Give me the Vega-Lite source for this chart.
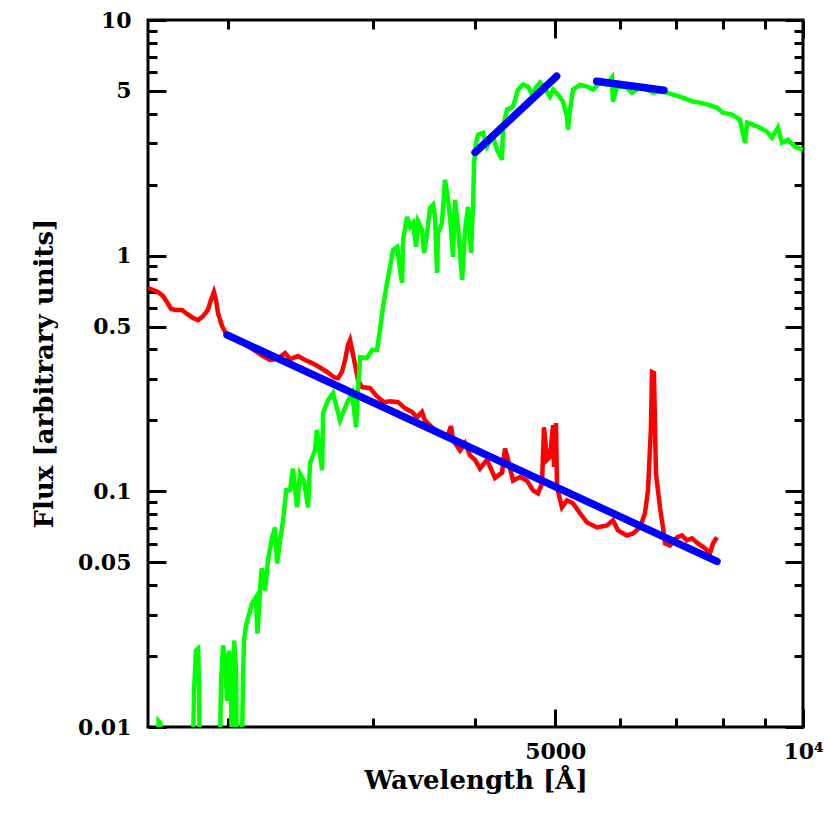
{
  "$schema": "https://vega.github.io/schema/vega-lite/v6.json",
  "autosize": "none",
  "width": 655,
  "height": 707,
  "padding": {"left": 148, "top": 20, "right": 27, "bottom": 95},
  "background": "white",
  "datasets": {
    "red": [
      {"lam": 1600, "flux": 0.730}, {"lam": 1623, "flux": 0.715}, {"lam": 1645, "flux": 0.701}, {"lam": 1668, "flux": 0.675},
      {"lam": 1687, "flux": 0.636}, {"lam": 1707, "flux": 0.594}, {"lam": 1731, "flux": 0.588}, {"lam": 1760, "flux": 0.588},
      {"lam": 1785, "flux": 0.566}, {"lam": 1815, "flux": 0.544}, {"lam": 1841, "flux": 0.533}, {"lam": 1867, "flux": 0.555},
      {"lam": 1892, "flux": 0.588}, {"lam": 1908, "flux": 0.649}, {"lam": 1924, "flux": 0.701}, {"lam": 1935, "flux": 0.649},
      {"lam": 1946, "flux": 0.571}, {"lam": 1968, "flux": 0.503}, {"lam": 1991, "flux": 0.465}, {"lam": 2024, "flux": 0.452},
      {"lam": 2070, "flux": 0.434}, {"lam": 2116, "flux": 0.413}, {"lam": 2171, "flux": 0.390}, {"lam": 2207, "flux": 0.375},
      {"lam": 2251, "flux": 0.361}, {"lam": 2296, "flux": 0.364}, {"lam": 2348, "flux": 0.386}, {"lam": 2381, "flux": 0.364},
      {"lam": 2434, "flux": 0.375}, {"lam": 2483, "flux": 0.361}, {"lam": 2532, "flux": 0.350}, {"lam": 2582, "flux": 0.337},
      {"lam": 2641, "flux": 0.321}, {"lam": 2692, "flux": 0.305}, {"lam": 2723, "flux": 0.302}, {"lam": 2753, "flux": 0.321},
      {"lam": 2777, "flux": 0.361}, {"lam": 2800, "flux": 0.418}, {"lam": 2816, "flux": 0.439}, {"lam": 2832, "flux": 0.398},
      {"lam": 2856, "flux": 0.343}, {"lam": 2880, "flux": 0.296}, {"lam": 2912, "flux": 0.277}, {"lam": 2978, "flux": 0.274},
      {"lam": 3036, "flux": 0.253}, {"lam": 3096, "flux": 0.239}, {"lam": 3149, "flux": 0.241}, {"lam": 3221, "flux": 0.239},
      {"lam": 3285, "flux": 0.225}, {"lam": 3350, "flux": 0.217}, {"lam": 3396, "flux": 0.206}, {"lam": 3444, "flux": 0.217},
      {"lam": 3473, "flux": 0.200}, {"lam": 3542, "flux": 0.187}, {"lam": 3602, "flux": 0.178}, {"lam": 3694, "flux": 0.170},
      {"lam": 3735, "flux": 0.189}, {"lam": 3756, "flux": 0.165}, {"lam": 3831, "flux": 0.149}, {"lam": 3885, "flux": 0.160},
      {"lam": 3939, "flux": 0.142}, {"lam": 3995, "flux": 0.136}, {"lam": 4051, "flux": 0.125}, {"lam": 4131, "flux": 0.136},
      {"lam": 4224, "flux": 0.114}, {"lam": 4308, "flux": 0.120}, {"lam": 4344, "flux": 0.152}, {"lam": 4381, "flux": 0.136},
      {"lam": 4443, "flux": 0.111}, {"lam": 4530, "flux": 0.115}, {"lam": 4620, "flux": 0.111}, {"lam": 4698, "flux": 0.101},
      {"lam": 4764, "flux": 0.098}, {"lam": 4818, "flux": 0.108}, {"lam": 4845, "flux": 0.187}, {"lam": 4886, "flux": 0.136},
      {"lam": 4927, "flux": 0.140}, {"lam": 4969, "flux": 0.191}, {"lam": 4983, "flux": 0.127}, {"lam": 5010, "flux": 0.195},
      {"lam": 5025, "flux": 0.104}, {"lam": 5095, "flux": 0.0855}, {"lam": 5166, "flux": 0.0916}, {"lam": 5254, "flux": 0.0890},
      {"lam": 5358, "flux": 0.0807}, {"lam": 5464, "flux": 0.0738}, {"lam": 5619, "flux": 0.0703}, {"lam": 5778, "flux": 0.0717},
      {"lam": 5876, "flux": 0.0753}, {"lam": 5959, "flux": 0.0683}, {"lam": 6110, "flux": 0.0650}, {"lam": 6214, "flux": 0.0663},
      {"lam": 6337, "flux": 0.0703}, {"lam": 6426, "flux": 0.0807}, {"lam": 6481, "flux": 0.101}, {"lam": 6535, "flux": 0.187},
      {"lam": 6554, "flux": 0.321}, {"lam": 6590, "flux": 0.318}, {"lam": 6627, "flux": 0.119}, {"lam": 6702, "flux": 0.0855},
      {"lam": 6759, "flux": 0.0703}, {"lam": 6797, "flux": 0.0601}, {"lam": 6892, "flux": 0.0589}, {"lam": 7028, "flux": 0.0638},
      {"lam": 7127, "flux": 0.0650}, {"lam": 7227, "flux": 0.0619}, {"lam": 7329, "flux": 0.0632}, {"lam": 7453, "flux": 0.0601},
      {"lam": 7601, "flux": 0.0573}, {"lam": 7708, "flux": 0.0545}, {"lam": 7773, "flux": 0.0601}, {"lam": 7861, "flux": 0.0638}
    ],
    "green": [
      {"lam": 1640, "flux": 0.005}, {"lam": 1648, "flux": 0.0106}, {"lam": 1656, "flux": 0.0104}, {"lam": 1660, "flux": 0.005},
      {"lam": 1810, "flux": 0.005}, {"lam": 1820, "flux": 0.0143}, {"lam": 1830, "flux": 0.0211}, {"lam": 1841, "flux": 0.0215},
      {"lam": 1846, "flux": 0.0143}, {"lam": 1851, "flux": 0.005}, {"lam": 1952, "flux": 0.005}, {"lam": 1963, "flux": 0.0157},
      {"lam": 1974, "flux": 0.0222}, {"lam": 1985, "flux": 0.0191}, {"lam": 1996, "flux": 0.0129}, {"lam": 2007, "flux": 0.0211},
      {"lam": 2019, "flux": 0.0157}, {"lam": 2024, "flux": 0.005}, {"lam": 2036, "flux": 0.0233}, {"lam": 2047, "flux": 0.0174},
      {"lam": 2053, "flux": 0.005}, {"lam": 2076, "flux": 0.005}, {"lam": 2087, "flux": 0.0157}, {"lam": 2093, "flux": 0.0233},
      {"lam": 2105, "flux": 0.0269}, {"lam": 2116, "flux": 0.0289}, {"lam": 2140, "flux": 0.0334}, {"lam": 2164, "flux": 0.0355},
      {"lam": 2173, "flux": 0.0249}, {"lam": 2195, "flux": 0.0440}, {"lam": 2201, "flux": 0.0471}, {"lam": 2220, "flux": 0.0380},
      {"lam": 2238, "flux": 0.0509}, {"lam": 2264, "flux": 0.0638}, {"lam": 2283, "flux": 0.0703}, {"lam": 2296, "flux": 0.0494},
      {"lam": 2315, "flux": 0.0619}, {"lam": 2335, "flux": 0.0753}, {"lam": 2355, "flux": 0.101}, {"lam": 2381, "flux": 0.101},
      {"lam": 2400, "flux": 0.125}, {"lam": 2428, "flux": 0.0855}, {"lam": 2448, "flux": 0.119}, {"lam": 2475, "flux": 0.111},
      {"lam": 2504, "flux": 0.0855}, {"lam": 2518, "flux": 0.132}, {"lam": 2553, "flux": 0.149}, {"lam": 2567, "flux": 0.182},
      {"lam": 2604, "flux": 0.123}, {"lam": 2611, "flux": 0.215}, {"lam": 2648, "flux": 0.244}, {"lam": 2685, "flux": 0.261},
      {"lam": 2738, "flux": 0.200}, {"lam": 2792, "flux": 0.237}, {"lam": 2832, "flux": 0.261}, {"lam": 2864, "flux": 0.187},
      {"lam": 2880, "flux": 0.277}, {"lam": 2896, "flux": 0.371}, {"lam": 2953, "flux": 0.368}, {"lam": 2995, "flux": 0.398},
      {"lam": 3036, "flux": 0.398}, {"lam": 3062, "flux": 0.484}, {"lam": 3088, "flux": 0.606}, {"lam": 3123, "flux": 0.766},
      {"lam": 3149, "flux": 0.896}, {"lam": 3176, "flux": 1.058}, {"lam": 3212, "flux": 1.090}, {"lam": 3239, "flux": 0.870},
      {"lam": 3257, "flux": 0.766}, {"lam": 3266, "flux": 1.167}, {"lam": 3303, "flux": 1.461}, {"lam": 3331, "flux": 1.325},
      {"lam": 3359, "flux": 1.376}, {"lam": 3387, "flux": 1.090}, {"lam": 3406, "flux": 1.398}, {"lam": 3444, "flux": 1.287},
      {"lam": 3463, "flux": 1.027}, {"lam": 3493, "flux": 1.250}, {"lam": 3522, "flux": 1.596}, {"lam": 3552, "flux": 1.644},
      {"lam": 3572, "flux": 1.461}, {"lam": 3592, "flux": 0.845}, {"lam": 3602, "flux": 1.250}, {"lam": 3642, "flux": 1.376},
      {"lam": 3673, "flux": 2.099}, {"lam": 3694, "flux": 1.849}, {"lam": 3725, "flux": 1.461}, {"lam": 3756, "flux": 0.988},
      {"lam": 3777, "flux": 1.726}, {"lam": 3809, "flux": 1.325}, {"lam": 3853, "flux": 0.789}, {"lam": 3885, "flux": 1.287},
      {"lam": 3917, "flux": 1.612}, {"lam": 3950, "flux": 1.027}, {"lam": 3973, "flux": 1.644}, {"lam": 3984, "flux": 2.479},
      {"lam": 4006, "flux": 3.015}, {"lam": 4029, "flux": 3.262}, {"lam": 4085, "flux": 3.326}, {"lam": 4131, "flux": 2.900},
      {"lam": 4201, "flux": 3.198}, {"lam": 4248, "flux": 2.816}, {"lam": 4308, "flux": 2.553}, {"lam": 4320, "flux": 3.527},
      {"lam": 4369, "flux": 4.165}, {"lam": 4443, "flux": 4.289}, {"lam": 4505, "flux": 5.066}, {"lam": 4568, "flux": 5.320},
      {"lam": 4633, "flux": 5.219}, {"lam": 4685, "flux": 4.824}, {"lam": 4738, "flux": 5.166}, {"lam": 4791, "flux": 5.425},
      {"lam": 4886, "flux": 4.968}, {"lam": 4927, "flux": 4.731}, {"lam": 4969, "flux": 5.066}, {"lam": 5039, "flux": 4.824},
      {"lam": 5110, "flux": 4.505}, {"lam": 5166, "flux": 3.890}, {"lam": 5181, "flux": 3.425}, {"lam": 5210, "flux": 4.165},
      {"lam": 5254, "flux": 5.066}, {"lam": 5358, "flux": 5.320}, {"lam": 5464, "flux": 5.219}, {"lam": 5557, "flux": 5.066},
      {"lam": 5666, "flux": 5.425}, {"lam": 5778, "flux": 5.320}, {"lam": 5860, "flux": 5.698}, {"lam": 5876, "flux": 4.505},
      {"lam": 5942, "flux": 5.219}, {"lam": 6110, "flux": 5.166}, {"lam": 6197, "flux": 4.919}, {"lam": 6337, "flux": 5.166},
      {"lam": 6463, "flux": 5.066}, {"lam": 6572, "flux": 4.919}, {"lam": 6702, "flux": 4.968}, {"lam": 6835, "flux": 4.919},
      {"lam": 6950, "flux": 4.824}, {"lam": 7147, "flux": 4.685}, {"lam": 7349, "flux": 4.505}, {"lam": 7495, "flux": 4.461},
      {"lam": 7665, "flux": 4.375}, {"lam": 7861, "flux": 4.247}, {"lam": 7993, "flux": 4.044}, {"lam": 8197, "flux": 3.966},
      {"lam": 8382, "flux": 3.777}, {"lam": 8500, "flux": 3.015}, {"lam": 8552, "flux": 3.668}, {"lam": 8693, "flux": 3.598},
      {"lam": 8865, "flux": 3.492}, {"lam": 9040, "flux": 3.359}, {"lam": 9167, "flux": 3.166}, {"lam": 9323, "flux": 3.492},
      {"lam": 9428, "flux": 3.015}, {"lam": 9586, "flux": 3.105}, {"lam": 9776, "flux": 2.900}, {"lam": 10000, "flux": 2.816}
    ],
    "blue": [
      {"seg": "a", "lam": 1996, "flux": 0.461}, {"seg": "a", "lam": 7861, "flux": 0.0504},
      {"seg": "b", "lam": 3995, "flux": 2.743}, {"seg": "b", "lam": 5020, "flux": 5.77},
      {"seg": "c", "lam": 5614, "flux": 5.495}, {"seg": "c", "lam": 6777, "flux": 5.03}
    ]
  },
  "layer": [
    {
      "data": {"name": "red"},
      "mark": {"type": "line", "color": "#ff0000", "strokeWidth": 4.5, "clip": true},
      "encoding": {
        "x": {
          "field": "lam", "type": "quantitative",
          "scale": {"type": "log", "domain": [1600, 10000], "nice": false},
          "axis": {
            "orient": "bottom",
            "values": [2000, 3000, 4000, 5000, 6000, 7000, 8000, 9000, 10000],
            "labelExpr": "datum.value == 5000 ? '5000' : datum.value == 10000 ? '10⁴' : ''",
            "tickSize": {"condition": {"test": "datum.value == 5000 || datum.value == 10000", "value": -18}, "value": -9},
            "labelBaseline": "alphabetic",
            "labelPadding": 49,
            "title": "Wavelength [Å]",
            "titleY": 61,
            "titleBaseline": "alphabetic"
          }
        },
        "y": {
          "field": "flux", "type": "quantitative",
          "scale": {"type": "log", "domain": [0.01, 10], "nice": false},
          "axis": {
            "orient": "left",
            "values": [0.01, 0.02, 0.03, 0.04, 0.05, 0.06, 0.07, 0.08, 0.09, 0.1, 0.2, 0.3, 0.4, 0.5, 0.6, 0.7, 0.8, 0.9, 1, 2, 3, 4, 5, 6, 7, 8, 9, 10],
            "labelExpr": "indexof([0.01, 0.05, 0.1, 0.5, 1, 5, 10], datum.value) >= 0 ? '' + datum.value : ''",
            "tickSize": {"condition": {"test": "indexof([0.01, 0.05, 0.1, 0.5, 1, 5, 10], datum.value) >= 0", "value": -18}, "value": -9},
            "labelPadding": 35,
            "title": "Flux [arbitrary units]",
            "titleX": -96,
            "titleY": 353,
            "titleBaseline": "alphabetic"
          }
        }
      }
    },
    {
      "data": {"name": "green"},
      "mark": {"type": "line", "color": "#00ff00", "strokeWidth": 4.5, "clip": true},
      "encoding": {
        "x": {
          "field": "lam", "type": "quantitative",
          "scale": {"type": "log", "domain": [1600, 10000], "nice": false},
          "axis": {
            "orient": "top",
            "values": [2000, 3000, 4000, 5000, 6000, 7000, 8000, 9000, 10000],
            "labels": false,
            "tickSize": {"condition": {"test": "datum.value == 5000 || datum.value == 10000", "value": -18}, "value": -9},
            "title": null
          }
        },
        "y": {
          "field": "flux", "type": "quantitative",
          "scale": {"type": "log", "domain": [0.01, 10], "nice": false},
          "axis": {
            "orient": "right",
            "values": [0.01, 0.02, 0.03, 0.04, 0.05, 0.06, 0.07, 0.08, 0.09, 0.1, 0.2, 0.3, 0.4, 0.5, 0.6, 0.7, 0.8, 0.9, 1, 2, 3, 4, 5, 6, 7, 8, 9, 10],
            "labels": false,
            "tickSize": {"condition": {"test": "indexof([0.01, 0.05, 0.1, 0.5, 1, 5, 10], datum.value) >= 0", "value": -18}, "value": -9},
            "title": null
          }
        }
      }
    },
    {
      "data": {"name": "blue"},
      "mark": {"type": "line", "color": "#0000ff", "strokeWidth": 7.5, "strokeCap": "round", "clip": true},
      "encoding": {
        "x": {"field": "lam", "type": "quantitative", "scale": {"type": "log", "domain": [1600, 10000], "nice": false}, "axis": null},
        "y": {"field": "flux", "type": "quantitative", "scale": {"type": "log", "domain": [0.01, 10], "nice": false}, "axis": null},
        "detail": {"field": "seg", "type": "nominal"}
      }
    }
  ],
  "resolve": {"axis": {"x": "independent", "y": "independent"}},
  "config": {
    "view": {"stroke": "black", "strokeWidth": 3},
    "axis": {
      "domain": false,
      "grid": false,
      "ticks": true,
      "tickColor": "black",
      "tickWidth": 3,
      "labelFont": "DejaVu Serif",
      "labelFontWeight": "bold",
      "labelFontSize": 22,
      "labelColor": "black",
      "labelFlush": false,
      "labelOverlap": false,
      "labelBound": false,
      "titleFont": "DejaVu Serif",
      "titleFontWeight": "bold",
      "titleFontSize": 26,
      "titleColor": "black"
    }
  }
}
